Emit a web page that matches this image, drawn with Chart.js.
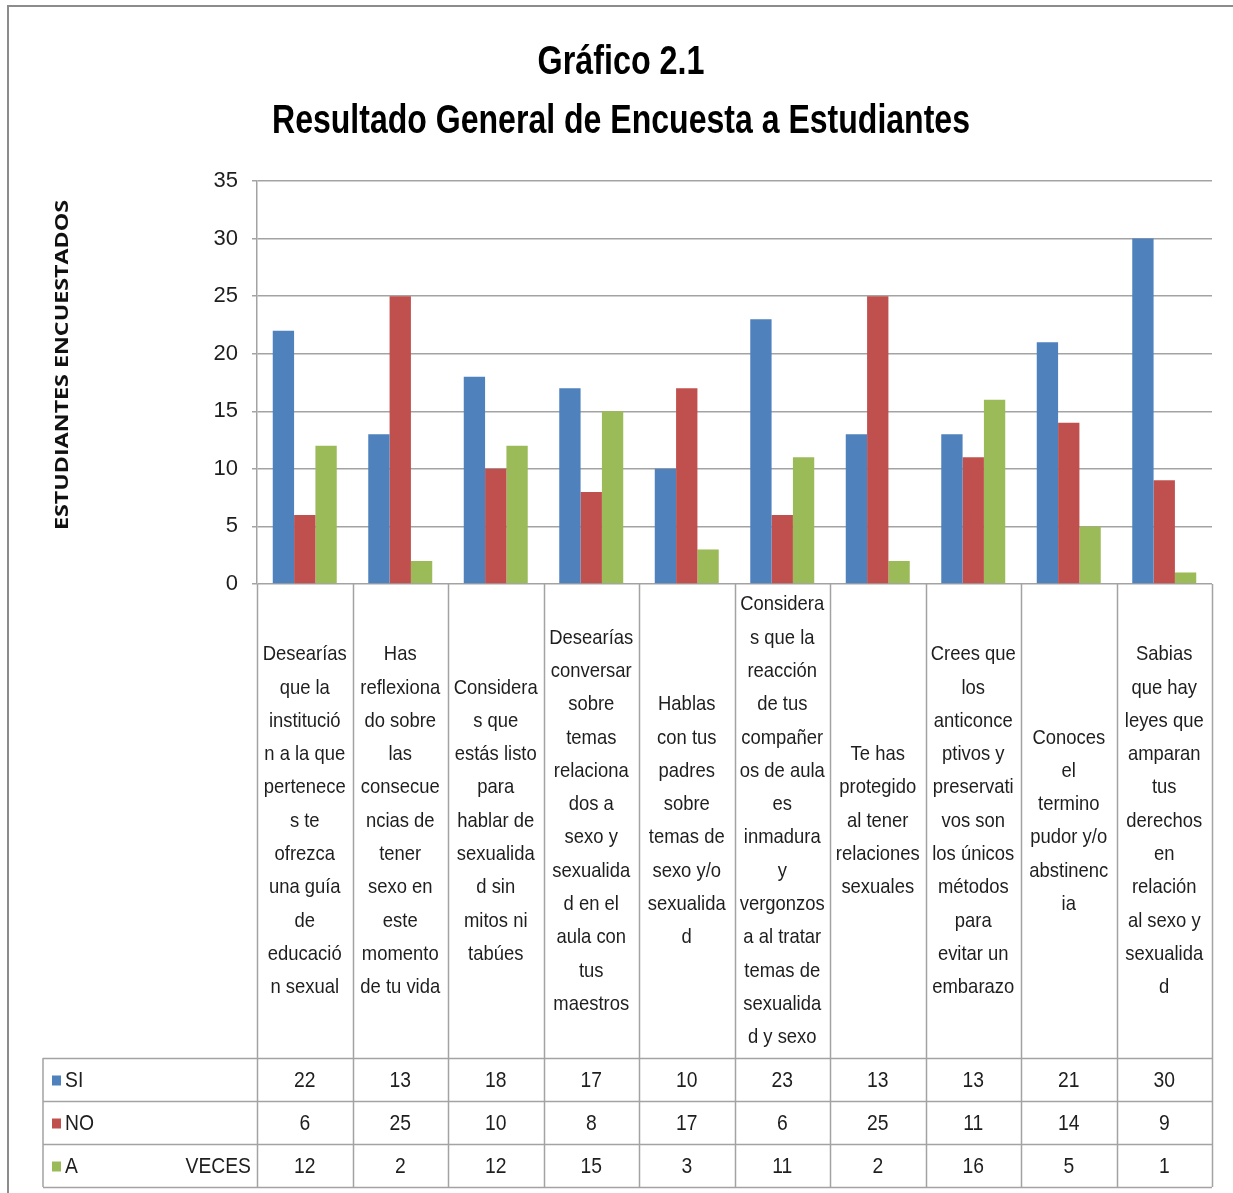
<!DOCTYPE html>
<html>
<head>
<meta charset="utf-8">
<script src="https://cdn.jsdelivr.net/npm/chart.js@4.4.0/dist/chart.umd.min.js"></script>
<style>
  html, body { margin: 0; padding: 0; background: #fff; }
  canvas { display: block; }
</style>
</head>
<body>
<canvas id="surveyChart" width="1233" height="1193"></canvas>
<script>
// Question labels, already wrapped the way they appear in the table cells
const categories = [
    ['Desearías', 'que la', 'institució', 'n a la que', 'pertenece', 's te', 'ofrezca', 'una guía', 'de', 'educació', 'n sexual'],
    ['Has', 'reflexiona', 'do sobre', 'las', 'consecue', 'ncias de', 'tener', 'sexo en', 'este', 'momento', 'de tu vida'],
    ['Considera', 's que', 'estás listo', 'para', 'hablar de', 'sexualida', 'd sin', 'mitos ni', 'tabúes'],
    ['Desearías', 'conversar', 'sobre', 'temas', 'relaciona', 'dos a', 'sexo y', 'sexualida', 'd en el', 'aula con', 'tus', 'maestros'],
    ['Hablas', 'con tus', 'padres', 'sobre', 'temas de', 'sexo y/o', 'sexualida', 'd'],
    ['Considera', 's que la', 'reacción', 'de tus', 'compañer', 'os de aula', 'es', 'inmadura', 'y', 'vergonzos', 'a al tratar', 'temas de', 'sexualida', 'd y sexo'],
    ['Te has', 'protegido', 'al tener', 'relaciones', 'sexuales'],
    ['Crees que', 'los', 'anticonce', 'ptivos y', 'preservati', 'vos son', 'los únicos', 'métodos', 'para', 'evitar un', 'embarazo'],
    ['Conoces', 'el', 'termino', 'pudor y/o', 'abstinenc', 'ia'],
    ['Sabias', 'que hay', 'leyes que', 'amparan', 'tus', 'derechos', 'en', 'relación', 'al sexo y', 'sexualida', 'd']
];

const seriesNames = ['SI', 'NO', 'A VECES'];
const siValues     = [22, 13, 18, 17, 10, 23, 13, 13, 21, 30];
const noValues     = [6, 25, 10, 8, 17, 6, 25, 11, 14, 9];
const aVecesValues = [12, 2, 12, 15, 3, 11, 2, 16, 5, 1];
const yTicks = [0, 5, 10, 15, 20, 25, 30, 35];

const titleLines = ['Gráfico 2.1', 'Resultado General de Encuesta a Estudiantes'];
const yAxisTitle = 'ESTUDIANTES ENCUESTADOS';

const seriesColors = ['#4f81bd', '#c0504d', '#9bbb59'];
const gridColor = '#a3a3a3';
const textColor = '#1e1e1e';
const narrow = '"Liberation Sans Narrow", "Liberation Sans", Arial, sans-serif';

// draw text squeezed/stretched horizontally so it fills a target width
function fitText(ctx, text, x, y, font, width, align) {
    ctx.save();
    ctx.font = font;
    const w = ctx.measureText(text).width;
    ctx.translate(x, y);
    ctx.scale(width / w, 1);
    ctx.textAlign = align || 'center';
    ctx.fillText(text, 0, 0);
    ctx.restore();
}

function scaledText(ctx, text, x, y, font, sx, align) {
    ctx.save();
    ctx.font = font;
    ctx.translate(x, y);
    ctx.scale(sx, 1);
    ctx.textAlign = align || 'center';
    ctx.fillText(text, 0, 0);
    ctx.restore();
}

// titles, axis title and the data table under the plot
const tablePlugin = {
    id: 'tablePlugin',
    afterDraw(chart) {
        const ctx = chart.ctx;
        const area = chart.chartArea;
        const xs = chart.scales.x;
        const n = chart.data.labels.length;
        const cellW = (area.right - area.left) / n;
        const labelBottom = 1058;
        const rowH = 43;
        const tableLeft = 43;
        const tableBottom = labelBottom + rowH * 3;

        ctx.save();
        // outer frame
        ctx.strokeStyle = '#8c8c8c';
        ctx.lineWidth = 2;
        ctx.beginPath();
        ctx.moveTo(8, 1193);
        ctx.lineTo(8, 6);
        ctx.lineTo(1233, 6);
        ctx.stroke();

        // titles
        ctx.fillStyle = '#000';
        ctx.textBaseline = 'alphabetic';
        fitText(ctx, titleLines[0], 621, 74, 'bold 40px ' + narrow, 167);
        fitText(ctx, titleLines[1], 621, 133, 'bold 40px ' + narrow, 698);

        // rotated axis title
        ctx.save();
        ctx.translate(68, 365);
        ctx.rotate(-Math.PI / 2);
        ctx.fillStyle = '#111';
        fitText(ctx, yAxisTitle, 0, 0, 'bold 17px "Open Sans", "DejaVu Sans", sans-serif', 330);
        ctx.restore();

        // table grid
        ctx.strokeStyle = gridColor;
        ctx.lineWidth = 1.5;
        ctx.beginPath();
        for (let i = 0; i <= n; i++) {
            const x = Math.round(area.left + i * cellW) + 0.5;
            ctx.moveTo(x, area.bottom);
            ctx.lineTo(x, tableBottom);
        }
        ctx.moveTo(tableLeft, labelBottom);
        ctx.lineTo(tableLeft, tableBottom);
        for (let r = 0; r <= 3; r++) {
            const y = labelBottom + r * rowH + 0.5;
            ctx.moveTo(tableLeft, y);
            ctx.lineTo(area.right, y);
        }
        ctx.stroke();

        // category labels
        ctx.fillStyle = textColor;
        ctx.textBaseline = 'middle';
        const labelFont = '21px ' + narrow;
        ctx.font = labelFont;
        const sx = 84 / ctx.measureText('Desearías').width;
        const lineH = 33.3;
        const midY = (area.bottom + labelBottom) / 2;
        chart.data.labels.forEach((lines, i) => {
            const cx = xs.getPixelForValue(i);
            const y0 = midY - (lines.length - 1) * lineH / 2;
            lines.forEach((t, j) => scaledText(ctx, t, cx, y0 + j * lineH, labelFont, sx));
        });

        // data rows with legend keys
        const numFont = '22px ' + narrow;
        chart.data.datasets.forEach((ds, r) => {
            const cy = labelBottom + r * rowH + rowH / 2 + 1;
            ctx.fillStyle = ds.backgroundColor;
            ctx.fillRect(52, cy - 5, 9, 10);
            ctx.fillStyle = textColor;
            const words = ds.label.split(' ');
            scaledText(ctx, words[0], 65, cy, numFont, sx, 'left');
            if (words.length > 1) {
                scaledText(ctx, words.slice(1).join(' '), 251, cy, numFont, sx, 'right');
            }
            ds.data.forEach((v, i) => {
                scaledText(ctx, String(v), xs.getPixelForValue(i), cy, numFont, sx);
            });
        });
        ctx.restore();
    }
};

const ctx = document.getElementById('surveyChart').getContext('2d');

const surveyChart = new Chart(ctx, {
    type: 'bar',
    data: {
        labels: categories,
        datasets: [
            { label: seriesNames[0], data: siValues, backgroundColor: seriesColors[0] },
            { label: seriesNames[1], data: noValues, backgroundColor: seriesColors[1] },
            { label: seriesNames[2], data: aVecesValues, backgroundColor: seriesColors[2] }
        ]
    },
    options: {
        responsive: false,
        animation: false,
        layout: { padding: { left: 0, top: 181, right: 21, bottom: 609 } },
        datasets: { bar: { categoryPercentage: 0.67, barPercentage: 1.0 } },
        plugins: {
            legend: { display: false },
            title: { display: false },
            tooltip: { enabled: false }
        },
        scales: {
            x: { display: false },
            y: {
                min: 0,
                max: 35,
                afterFit: s => { s.width = 257; },
                afterBuildTicks: s => { s.ticks = yTicks.map(v => ({ value: v })); },
                ticks: {
                    color: textColor,
                    padding: 14,
                    font: { family: narrow, size: 22 }
                },
                grid: { color: gridColor, lineWidth: 1.5, tickLength: 5 },
                border: { color: gridColor, width: 1.5 }
            }
        }
    },
    plugins: [tablePlugin]
});
</script>
</body>
</html>
